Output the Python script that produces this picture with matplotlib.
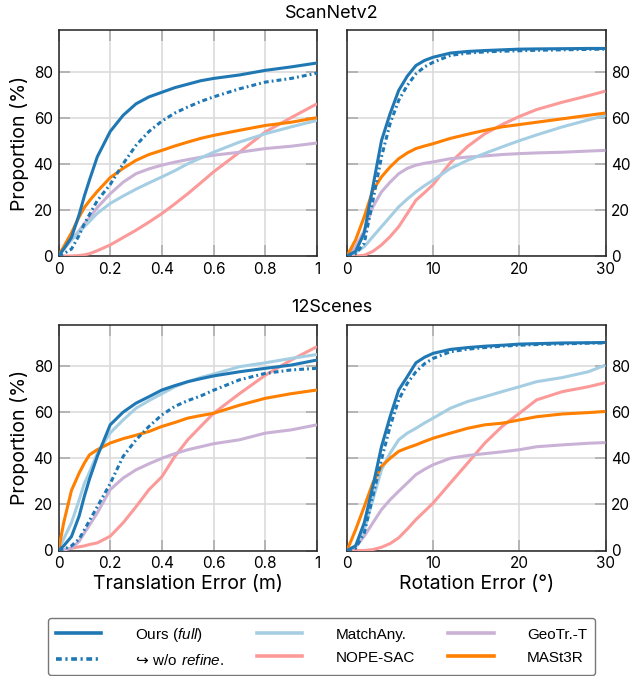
import matplotlib
matplotlib.use("Agg")
import matplotlib.pyplot as plt
from matplotlib.font_manager import FontProperties

plt.rcParams['font.family'] = ['Inter', 'DejaVu Sans']
plt.rcParams['mathtext.fontset'] = 'custom'
plt.rcParams['mathtext.rm'] = 'Liberation Sans'
plt.rcParams['mathtext.sf'] = 'Liberation Sans'
plt.rcParams['mathtext.it'] = 'Liberation Sans:italic'
plt.rcParams['mathtext.fallback'] = 'stixsans'

# ---------------- data ----------------
trans_x = [0, 0.02, 0.05, 0.08, 0.1, 0.12, 0.15, 0.2, 0.25, 0.3, 0.35, 0.4, 0.45, 0.5, 0.55, 0.6, 0.7, 0.8, 0.9, 1.0]
rot_x = [0, 1, 2, 3, 4, 5, 6, 7, 8, 9, 10, 12, 14, 16, 18, 20, 22, 25, 28, 30]

methods = ["Ours (full)", "w/o refine.", "MatchAny.", "NOPE-SAC", "GeoTr.-T", "MASt3R"]

# ScanNetv2 - translation
sn_t_ours = [0, 3, 8, 18, 26, 33, 43, 54, 61, 66, 69, 71, 73, 74.5, 76, 77, 78.5, 80.5, 82, 83.7]
sn_t_worefine = [0, 1, 3, 9, 14, 18, 24, 31, 40, 48, 54, 58.5, 62, 64.6, 67, 69, 72.5, 75.4, 77, 79.3]
sn_t_matchany = [0, 3, 7, 10.5, 12.7, 15, 18.5, 22.8, 26, 29, 31.7, 34.3, 37, 40, 42.5, 45, 49.4, 53, 56, 58.8]
sn_t_nopesac = [0, 0, 0, 0.2, 0.5, 1, 2.3, 4.8, 8, 11.2, 14.7, 18.4, 22.6, 27, 31.7, 36.5, 45, 53.8, 60, 66]
sn_t_geotr = [0, 3, 7, 11, 14, 16.5, 21, 27, 32, 35.7, 37.8, 39.4, 40.7, 41.8, 42.8, 43.7, 45, 46.6, 47.6, 49]
sn_t_mast3r = [0, 4, 10, 17, 21, 24, 28, 34, 38, 41.5, 44, 45.8, 47.7, 49.4, 51, 52.3, 54.5, 56.6, 58, 60]

# ScanNetv2 - rotation
sn_r_ours = [0, 2, 10, 30, 50, 61.7, 71.8, 78, 82.6, 84.8, 86.2, 88, 88.7, 89.1, 89.4, 89.7, 89.8, 89.9, 90, 90]
sn_r_worefine = [0, 1, 5.5, 24, 43, 57.4, 67.5, 74, 79, 82, 84, 87, 88, 88.5, 88.8, 89, 89.2, 89.4, 89.6, 89.7]
sn_r_matchany = [0, 1.5, 4, 8.4, 12.7, 17, 21.3, 24.7, 27.8, 30.5, 32.9, 38, 41.5, 44.5, 47.3, 50, 52.5, 56, 59, 61]
sn_r_nopesac = [0, 0, 0.3, 2, 4.8, 8.4, 12.7, 18.4, 24.2, 27.5, 31, 40.5, 47.5, 53, 57, 60.5, 63.5, 66.7, 69.5, 71.5]
sn_r_geotr = [0, 4, 11, 21.3, 27.8, 32, 35.7, 38, 39.4, 40.2, 40.8, 42.2, 42.9, 43.4, 44, 44.4, 44.7, 45, 45.5, 45.8]
sn_r_mast3r = [0, 7, 17, 28.5, 34.3, 38.6, 42.2, 44.7, 46.6, 47.7, 48.7, 51, 52.8, 54.5, 56, 57, 58, 59.5, 61, 62]

# 12Scenes - translation
sc_t_ours = [0, 2, 6, 15, 23.5, 31, 40.8, 54.5, 60, 63.9, 66.7, 69.6, 71.5, 73.2, 74.5, 75.7, 77.5, 79, 80.4, 82.6]
sc_t_worefine = [0, 0.5, 2, 5, 9, 13, 19, 29, 40.8, 48, 53.8, 58.8, 62.5, 65, 67, 69.5, 74, 76.8, 78.3, 79]
sc_t_matchany = [0, 5, 12, 22, 29, 34, 42, 51, 56.6, 61.7, 65, 68, 71, 73.2, 75, 76.5, 79.7, 81.4, 83.3, 85]
sc_t_nopesac = [0, 0.3, 1, 1.6, 2, 2.6, 3.3, 6.2, 12, 19, 26.4, 32, 40.8, 48, 53.8, 59.5, 68, 76, 82.6, 88.4]
sc_t_geotr = [0, 0.3, 1, 4, 7.6, 11, 16.3, 26.4, 31.4, 35, 37.6, 40, 42, 43.7, 45, 46.3, 48, 50.9, 52.3, 54.5]
sc_t_mast3r = [0, 12, 26, 33.6, 37.9, 41.5, 43.7, 46.6, 48.5, 50, 51.6, 53.8, 55.5, 57.4, 58.5, 59.5, 63, 66, 68, 69.6]

# 12Scenes - rotation
sc_r_ours = [0, 2, 12, 27.8, 45, 58, 69.6, 75.4, 81.4, 83.8, 85.5, 87.2, 88, 88.6, 89, 89.5, 89.7, 90, 90.1, 90.2]
sc_r_worefine = [0, 1, 7.6, 23.5, 39.4, 53.8, 65.3, 72.5, 77.5, 81, 83.3, 86.2, 87.3, 88, 88.6, 89, 89.3, 89.6, 89.9, 90]
sc_r_matchany = [0, 2, 9, 22, 35, 42.2, 48, 50.9, 53, 55.3, 57.4, 61.7, 64.6, 66.7, 68.9, 71, 73.2, 75, 77.5, 80.4]
sc_r_nopesac = [0, 0, 0, 0.4, 1.4, 3, 5.5, 9.3, 13.4, 17, 20.6, 29.3, 37.9, 46.6, 53.8, 59.5, 65.3, 68.9, 71, 72.8]
sc_r_geotr = [0, 1.5, 6.2, 12, 17.7, 22, 25.7, 29.3, 32.9, 35.2, 37.2, 40, 41.2, 42, 42.8, 43.7, 45, 45.8, 46.5, 46.8]
sc_r_mast3r = [0, 9, 19, 29.3, 36.5, 40, 43, 44.5, 45.8, 47.3, 48.7, 50.9, 53, 54.5, 55.2, 56.6, 58, 59.2, 59.8, 60.3]

dataset_titles = ["ScanNetv2", "12Scenes"]
y_ticks = [0, 20, 40, 60, 80]
trans_ticks = [0, 0.2, 0.4, 0.6, 0.8, 1.0]
trans_ticklabels = ["0", "0.2", "0.4", "0.6", "0.8", "1"]
rot_ticks = [0, 10, 20, 30]
x_labels = ["Translation Error (m)", "Rotation Error (°)"]
y_label = "Proportion (%)"

# ---------------- style ----------------
colors = {
    "Ours (full)": "#1f78b4",
    "w/o refine.": "#1f78b4",
    "MatchAny.": "#a6cee3",
    "NOPE-SAC": "#fb9a99",
    "GeoTr.-T": "#cab2d6",
    "MASt3R": "#ff7f00",
}
dashdot = (0, (1.6, 1.0, 0.6, 1.0))
styles = {m: "-" for m in methods}
styles["w/o refine."] = dashdot
draw_order = ["NOPE-SAC", "GeoTr.-T", "MatchAny.", "MASt3R", "w/o refine.", "Ours (full)"]
LW = 2.2

panels = [
    [(trans_x, dict(zip(methods, [sn_t_ours, sn_t_worefine, sn_t_matchany, sn_t_nopesac, sn_t_geotr, sn_t_mast3r]))),
     (rot_x, dict(zip(methods, [sn_r_ours, sn_r_worefine, sn_r_matchany, sn_r_nopesac, sn_r_geotr, sn_r_mast3r])))],
    [(trans_x, dict(zip(methods, [sc_t_ours, sc_t_worefine, sc_t_matchany, sc_t_nopesac, sc_t_geotr, sc_t_mast3r]))),
     (rot_x, dict(zip(methods, [sc_r_ours, sc_r_worefine, sc_r_matchany, sc_r_nopesac, sc_r_geotr, sc_r_mast3r])))],
]

W, H = 633, 676
fig = plt.figure(figsize=(W / 100, H / 100), dpi=100)

ax_left = [58.5, 347]
ax_w = 258.5
ax_top = [30, 324.5]
ax_h = 226

for r in range(2):
    for c in range(2):
        ax = fig.add_axes([ax_left[c] / W, 1 - (ax_top[r] + ax_h) / H, ax_w / W, ax_h / H])
        xs, series = panels[r][c]
        for m in draw_order:
            ax.plot(xs, series[m], color=colors[m], linestyle=styles[m], lw=LW,
                    solid_capstyle='butt', dash_capstyle='butt', zorder=3)
        ax.set_ylim(0, 98)
        ax.set_yticks(y_ticks)
        if c == 0:
            ax.set_xlim(0, 1)
            ax.set_xticks(trans_ticks)
            ax.set_xticklabels(trans_ticklabels)
            ax.set_ylabel(y_label, fontsize=14, labelpad=3)
        else:
            ax.set_xlim(0, 30)
            ax.set_xticks(rot_ticks)
            ax.yaxis.tick_right()
        ax.grid(True, color="#d9d9d9", lw=1.1, zorder=0)
        ax.tick_params(direction='in', length=8, width=1.1, color="#a8a8a8",
                       labelsize=11, pad=4, top=True, bottom=True, left=True, right=True,
                       labelleft=(c == 0), labelright=(c == 1))
        for s in ax.spines.values():
            s.set_color("#222222")
            s.set_linewidth(1.1)
        if r == 1:
            ax.set_xlabel(x_labels[c], fontsize=14, labelpad=3)

fig.text(332 / W, 1 - 13 / H, dataset_titles[0], ha='center', va='center', fontsize=13)
fig.text(332 / W, 1 - 308 / H, dataset_titles[1], ha='center', va='center', fontsize=13)

leg_labels = ["Ours $\\mathit{(full)}$", "↪ $\\mathsf{w/o}$ $\\mathit{refine.}$",
              "MatchAny.", "NOPE-SAC", "GeoTr.-T", "MASt3R"]
leg_keys = ["Ours (full)", "w/o refine.", "MatchAny.", "NOPE-SAC", "GeoTr.-T", "MASt3R"]
leg_handles = [plt.Line2D([], [], color=colors[k], linestyle=styles[k], lw=LW + 0.4) for k in leg_keys]

prop = FontProperties(family=['Liberation Sans', 'DejaVu Sans'], size=11)
leg = fig.legend(leg_handles, leg_labels, loc='upper left', ncol=3, mode='expand',
                 bbox_to_anchor=(48 / W, 1 - 618 / H, 547 / W, 0.0), bbox_transform=fig.transFigure,
                 prop=prop, frameon=True, fancybox=True, borderaxespad=0,
                 handlelength=3.0, handletextpad=2.2, columnspacing=2.3,
                 borderpad=0.5, labelspacing=0.6)
leg.get_frame().set_edgecolor("#555555")
leg.get_frame().set_linewidth(1.0)
# the hook arrow is not in Liberation Sans: render the non-math part of this label with DejaVu Sans
leg.get_texts()[1].set_fontfamily('DejaVu Sans')

fig.savefig("out.png", dpi=100)
